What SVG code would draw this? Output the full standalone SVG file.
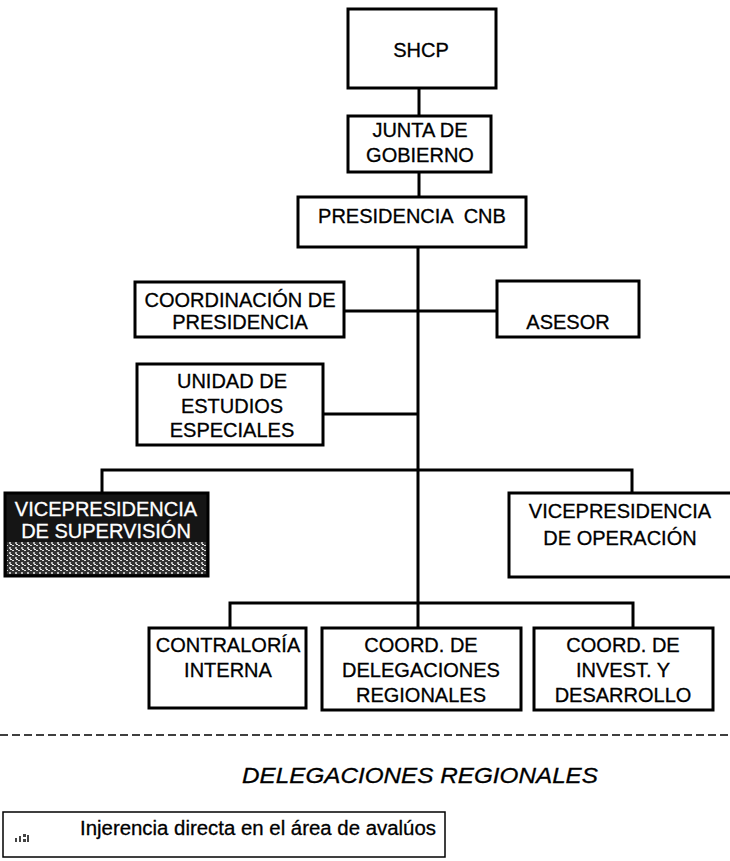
<svg xmlns="http://www.w3.org/2000/svg" width="730" height="861" viewBox="0 0 730 861">
<style>
.box{fill:#fff;stroke:#000;stroke-width:3}
.t{font-family:"Liberation Sans",Arial,sans-serif;font-size:20px;fill:#000;text-anchor:middle;stroke:#000;stroke-width:0.3}
.w{fill:#fff;stroke:#fff}
.c{fill:none;stroke:#000;stroke-width:3}
</style>
<defs>
<pattern id="speck" width="6" height="5" patternUnits="userSpaceOnUse">
<rect width="6" height="5" fill="#333"/>
<rect x="0" y="0" width="2" height="1" fill="#ddd"/>
<rect x="3" y="2" width="2" height="2" fill="#bbb"/>
<rect x="4" y="4" width="2" height="1" fill="#eee"/>
</pattern>
</defs>
<rect width="730" height="861" fill="#fff"/>
<g id="connectors">
<path class="c" d="M419 88V116M419 172V197M418 247V628"/>
<path class="c" d="M344 311H497M323 414H418"/>
<path class="c" d="M102 493V470H632V493"/>
<path class="c" d="M230 628V603H633V628"/>
</g>
<g id="shcp"><rect class="box" x="348" y="9" width="148" height="79"/><text class="t" x="421" y="57">SHCP</text></g>
<g id="junta"><rect class="box" x="348" y="116" width="143" height="56"/><text class="t" x="420" y="137">JUNTA DE</text><text class="t" x="420" y="162">GOBIERNO</text></g>
<g id="presidencia"><rect class="box" x="298" y="197" width="228" height="50"/><text class="t" x="412" y="223" xml:space="preserve">PRESIDENCIA  CNB</text></g>
<g id="coordinacion"><rect class="box" x="135" y="282" width="209" height="55"/><text class="t" x="240" y="307">COORDINACIÓN DE</text><text class="t" x="240" y="329">PRESIDENCIA</text></g>
<g id="asesor"><rect class="box" x="497" y="281" width="142" height="56"/><text class="t" x="568" y="329">ASESOR</text></g>
<g id="unidad"><rect class="box" x="137" y="364" width="186" height="81"/><text class="t" x="232" y="388">UNIDAD DE</text><text class="t" x="232" y="413">ESTUDIOS</text><text class="t" x="232" y="437">ESPECIALES</text></g>
<g id="vp-supervision"><rect x="5" y="493" width="203" height="83" fill="#151515" stroke="#000" stroke-width="3"/><rect x="7" y="542" width="199" height="32" fill="url(#speck)"/><text class="t w" x="106" y="516">VICEPRESIDENCIA</text><text class="t w" x="106" y="538">DE SUPERVISIÓN</text></g>
<g id="vp-operacion"><rect class="box" x="509" y="493" width="230" height="84"/><text class="t" x="620" y="518">VICEPRESIDENCIA</text><text class="t" x="620" y="545">DE OPERACIÓN</text></g>
<g id="contraloria"><rect class="box" x="149" y="628" width="157" height="80"/><text class="t" x="228" y="652">CONTRALORÍA</text><text class="t" x="228" y="677">INTERNA</text></g>
<g id="coord-delegaciones"><rect class="box" x="322" y="628" width="199" height="82"/><text class="t" x="421" y="652">COORD. DE</text><text class="t" x="421" y="677">DELEGACIONES</text><text class="t" x="421" y="702">REGIONALES</text></g>
<g id="coord-invest"><rect class="box" x="534" y="628" width="179" height="82"/><text class="t" x="623" y="652">COORD. DE</text><text class="t" x="623" y="677">INVEST. Y</text><text class="t" x="623" y="702">DESARROLLO</text></g>
<line x1="0" y1="735" x2="730" y2="735" stroke="#000" stroke-width="1.5" stroke-dasharray="8 4"/>
<text class="t" x="420" y="783" style="font-style:italic;font-size:22px" textLength="356" lengthAdjust="spacingAndGlyphs">DELEGACIONES REGIONALES</text>
<g id="legend">
<rect x="3" y="812" width="442" height="45" fill="#fff" stroke="#000" stroke-width="1.5"/>
<g fill="#444"><rect x="15" y="838" width="2" height="4"/><rect x="19" y="836" width="2" height="6"/><rect x="23" y="834" width="3" height="3"/><rect x="23" y="839" width="3" height="3"/><rect x="27" y="835" width="2" height="7"/></g>
<text x="80" y="835" font-family="'Liberation Sans',Arial,sans-serif" font-size="20" fill="#000" stroke="#000" stroke-width="0.3" textLength="356" lengthAdjust="spacingAndGlyphs">Injerencia directa en el área de avalúos</text>
</g>
</svg>
